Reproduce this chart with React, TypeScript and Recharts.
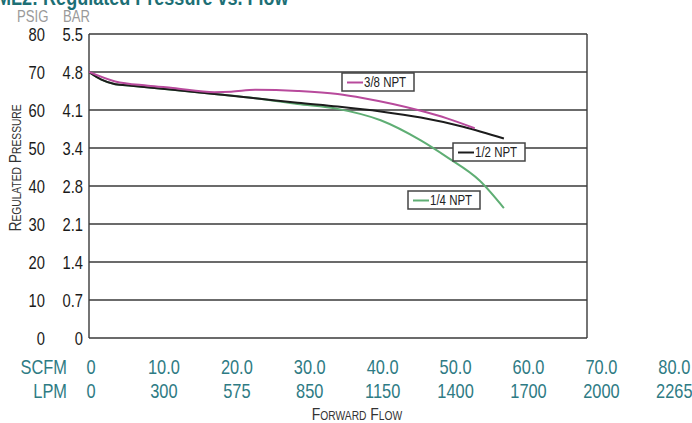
import React from 'react';
import { LineChart, Line, XAxis, YAxis, CartesianGrid } from 'recharts';

// pressure axis (psig) and its bar equivalents
const PSIG_TICKS = [0, 10, 20, 30, 40, 50, 60, 70, 80];
const BAR_LABELS = ['0', '0.7', '1.4', '2.1', '2.8', '3.4', '4.1', '4.8', '5.5'];

// flow axis: scfm ticks with lpm equivalents
const SCFM_TICKS = [0, 10, 20, 30, 40, 50, 60, 70, 80];
const SCFM_LABELS = ['0', '10.0', '20.0', '30.0', '40.0', '50.0', '60.0', '70.0', '80.0'];
const LPM_LABELS = ['0', '300', '575', '850', '1150', '1400', '1700', '2000', '2265'];

// the printed grid has 6 equal columns
const GRID_COLS = [0, 1, 2, 3, 4, 5, 6];

// curves: x = scfm, y = psig
const HALF_NPT = [
  { x: 0, y: 70 }, { x: 1.7, y: 68 }, { x: 3.6, y: 66.8 }, { x: 5.8, y: 66.4 },
  { x: 11.5, y: 65.3 }, { x: 17.2, y: 64.2 }, { x: 22.8, y: 63.1 }, { x: 28.6, y: 61.9 },
  { x: 34.1, y: 60.9 }, { x: 40.0, y: 59.6 }, { x: 45.5, y: 58.0 }, { x: 51.3, y: 55.6 },
  { x: 56.9, y: 52.5 },
];
const THREE_EIGHTHS_NPT = [
  { x: 0, y: 70 }, { x: 3.6, y: 67.5 }, { x: 8.1, y: 66.4 }, { x: 11.5, y: 65.8 },
  { x: 17.2, y: 64.7 }, { x: 19.5, y: 64.8 }, { x: 22.8, y: 65.3 }, { x: 28.6, y: 65.0 },
  { x: 34.1, y: 64.2 }, { x: 37.7, y: 63.1 }, { x: 45.5, y: 59.8 }, { x: 49.1, y: 57.8 },
  { x: 52.9, y: 55.2 },
];
const QUARTER_NPT = [
  { x: 0, y: 70 }, { x: 1.7, y: 68 }, { x: 3.6, y: 66.8 }, { x: 5.8, y: 66.4 },
  { x: 11.5, y: 65.3 }, { x: 17.2, y: 64.2 }, { x: 22.8, y: 63.1 }, { x: 28.6, y: 61.6 },
  { x: 34.1, y: 60.3 }, { x: 40.0, y: 57.3 }, { x: 45.5, y: 52.0 }, { x: 49.1, y: 47.6 },
  { x: 53.6, y: 41.4 }, { x: 56.9, y: 34.2 },
];

// Liberation Sans squeezed to 82% gives the narrow look of the print
const FONT = "'Liberation Sans', Arial, sans-serif";
const TEAL = '#2e7b84';
const MAGENTA = '#b84a9c';
const GREEN = '#5fae74';
const BLACK = '#1c1c1c';

type NProps = {
  x: number; y: number; size: number; fill: string; anchor?: string;
  weight?: string; rotate?: number; baseline?: string; children: React.ReactNode;
};

const NText = ({ x, y, size, fill, anchor = 'start', weight = 'normal', rotate = 0, baseline, children }: NProps) => (
  <text
    transform={`translate(${x} ${y}) rotate(${rotate}) scale(0.82 1)`}
    textAnchor={anchor}
    dominantBaseline={baseline}
    fontSize={size}
    fontWeight={weight}
    fill={fill}
    fontFamily={FONT}
  >
    {children}
  </text>
);

const PressureTick = (props: any) => {
  const { x, y, payload } = props;
  const i = PSIG_TICKS.indexOf(payload.value);
  return (
    <g>
      <NText x={x - 38} y={y + 7} anchor="end" size={18} fill="#1a1a1a">{payload.value}</NText>
      <NText x={x} y={y + 7} anchor="end" size={18} fill="#1a1a1a">{BAR_LABELS[i]}</NText>
    </g>
  );
};

const FlowTick = (props: any) => {
  const { x, y, payload } = props;
  const i = SCFM_TICKS.indexOf(payload.value);
  return (
    <g>
      <NText x={x + 2} y={y + 36} anchor="middle" size={20} fill={TEAL}>{SCFM_LABELS[i]}</NText>
      <NText x={x + 2} y={y + 60} anchor="middle" size={20} fill={TEAL}>{LPM_LABELS[i]}</NText>
    </g>
  );
};

const Tag = ({ left, top, color, text }: { left: number; top: number; color: string; text: string }) => (
  <g>
    <rect x={left} y={top} width={72} height={18} fill="#fff" stroke="#444" strokeWidth={1.5} />
    <line x1={left + 5} x2={left + 21} y1={top + 9.5} y2={top + 9.5} stroke={color} strokeWidth={2} />
    <NText x={left + 22} y={top + 14} size={14} fill="#222">{text}</NText>
  </g>
);

const SmallCaps = ({ words, big, small }: { words: string[]; big: number; small: number }) => (
  <>
    {words.map((w, i) => (
      <React.Fragment key={w}>
        <tspan fontSize={big}>{(i > 0 ? ' ' : '') + w[0]}</tspan>
        <tspan fontSize={small}>{w.slice(1).toUpperCase()}</tspan>
      </React.Fragment>
    ))}
  </>
);

export default function App() {
  return (
    <div style={{ position: 'absolute', left: 0, top: 0, width: 692, height: 423, overflow: 'hidden', background: '#fff' }}>
      <LineChart width={692} height={423} margin={{ top: 34, right: 105, bottom: 25, left: 0 }}>
        <XAxis xAxisId="grid" type="number" domain={[0, 6]} ticks={GRID_COLS} hide />
        <XAxis
          xAxisId="flow"
          dataKey="x"
          type="number"
          domain={[0, 68.3]}
          allowDataOverflow
          ticks={SCFM_TICKS}
          interval={0}
          height={60}
          axisLine={false}
          tickLine={false}
          tickSize={0}
          tickMargin={0}
          tick={<FlowTick />}
        />
        <YAxis
          type="number"
          domain={[0, 80]}
          ticks={PSIG_TICKS}
          interval={0}
          width={89}
          axisLine={false}
          tickLine={false}
          tickSize={0}
          tickMargin={6}
          tick={<PressureTick />}
        />
        <CartesianGrid xAxisId="grid" stroke="#3a3a3a" strokeWidth={1.4} />
        <Line xAxisId="flow" data={QUARTER_NPT} dataKey="y" type="monotone" stroke={GREEN} strokeWidth={2} dot={false} isAnimationActive={false} />
        <Line xAxisId="flow" data={HALF_NPT} dataKey="y" type="monotone" stroke={BLACK} strokeWidth={2} dot={false} isAnimationActive={false} />
        <Line xAxisId="flow" data={THREE_EIGHTHS_NPT} dataKey="y" type="monotone" stroke={MAGENTA} strokeWidth={2} dot={false} isAnimationActive={false} />
      </LineChart>

      <svg style={{ position: 'absolute', left: 0, top: 0 }} width={692} height={423}>
        <NText x={-4} y={5} size={22} weight="bold" fill="#1d6f75">ML2: Regulated Pressure vs. Flow</NText>
        <NText x={17} y={22} size={16} fill="#9a9a9a">PSIG</NText>
        <NText x={63} y={22} size={16} fill="#9a9a9a">BAR</NText>
        <NText x={21} y={168} rotate={-90} anchor="middle" size={17} fill="#333">
          <SmallCaps words={['Regulated', 'Pressure']} big={17} small={12.5} />
        </NText>
        <NText x={67} y={374} anchor="end" size={20} fill={TEAL}>SCFM</NText>
        <NText x={67} y={398} anchor="end" size={20} fill={TEAL}>LPM</NText>
        <NText x={357} y={420} anchor="middle" size={17} fill="#333">
          <SmallCaps words={['Forward', 'Flow']} big={17} small={12.5} />
        </NText>
        <Tag left={342} top={73} color={MAGENTA} text="3/8 NPT" />
        <Tag left={453} top={143} color={BLACK} text="1/2 NPT" />
        <Tag left={408} top={191} color={GREEN} text="1/4 NPT" />
      </svg>
    </div>
  );
}
